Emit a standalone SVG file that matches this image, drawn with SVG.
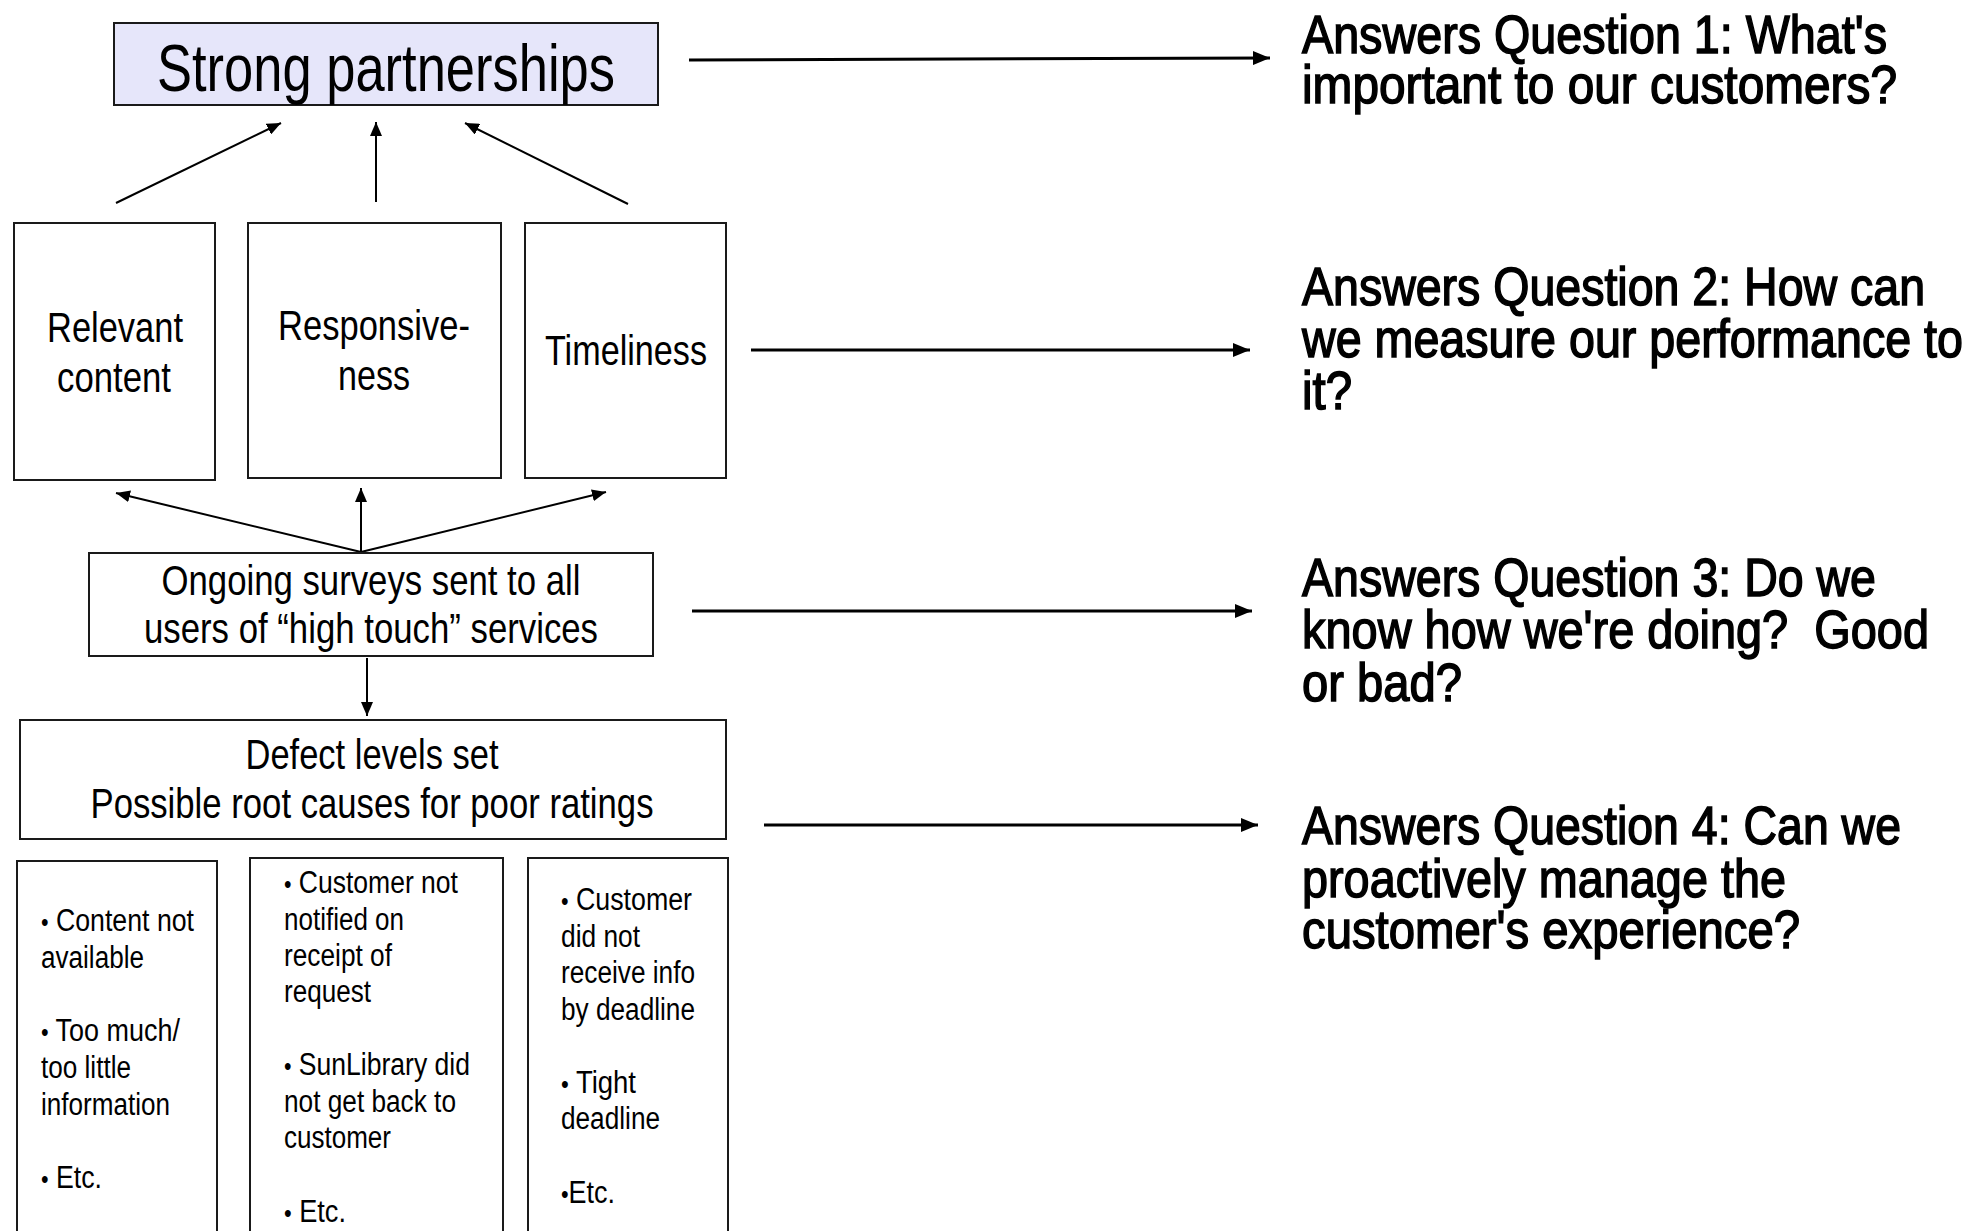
<svg xmlns="http://www.w3.org/2000/svg" width="1969" height="1231" viewBox="0 0 1969 1231">
<defs>
<style>
.box{fill:#fff;stroke:#1a1a1a;stroke-width:2}
.hl{fill:#e6e6fa}
.t{font-family:"Liberation Sans Narrow","Liberation Sans",Arial,sans-serif;fill:#000}
.c{text-anchor:middle}
.q{font-size:53px;stroke:#000;stroke-width:1.5}
.m{font-size:42px}
.s{font-size:31px}
.b{font-size:25px}
.cn{stroke:#000;fill:none}
.thin{stroke-width:2}
.thick{stroke-width:3}
</style>
<marker id="ah" markerUnits="userSpaceOnUse" markerWidth="14" markerHeight="12" refX="14" refY="6" orient="auto">
<path d="M0,0 L14,6 L0,12 z" fill="#000"/>
</marker>
<marker id="ahl" markerUnits="userSpaceOnUse" markerWidth="17" markerHeight="14" refX="17" refY="7" orient="auto">
<path d="M0,0 L17,7 L0,14 z" fill="#000"/>
</marker>
</defs>
<rect width="1969" height="1231" fill="#fff"/>

<g id="connectors">
<line class="cn thin" x1="116" y1="203" x2="281" y2="123" marker-end="url(#ah)"/>
<line class="cn thin" x1="376" y1="202" x2="376" y2="122" marker-end="url(#ah)"/>
<line class="cn thin" x1="628" y1="204" x2="465" y2="123" marker-end="url(#ah)"/>
<line class="cn thin" x1="361" y1="552" x2="116" y2="493" marker-end="url(#ah)"/>
<line class="cn thin" x1="361" y1="552" x2="361" y2="488" marker-end="url(#ah)"/>
<line class="cn thin" x1="361" y1="552" x2="606" y2="492" marker-end="url(#ah)"/>
<line class="cn thin" x1="367" y1="658" x2="367" y2="716" marker-end="url(#ah)"/>
<line class="cn thick" x1="689" y1="60" x2="1270" y2="58" marker-end="url(#ahl)"/>
<line class="cn thick" x1="751" y1="350" x2="1250" y2="350" marker-end="url(#ahl)"/>
<line class="cn thick" x1="692" y1="611" x2="1252" y2="611" marker-end="url(#ahl)"/>
<line class="cn thick" x1="764" y1="825" x2="1258" y2="825" marker-end="url(#ahl)"/>
</g>

<g id="strong-partnerships">
<rect class="box hl" x="114" y="23" width="544" height="82"/>
<text class="t c" x="386" y="91" font-size="66" textLength="458" lengthAdjust="spacingAndGlyphs">Strong partnerships</text>
</g>

<g id="relevant-content">
<rect class="box" x="14" y="223" width="201" height="257"/>
<text class="t c m" x="115" y="342" textLength="136" lengthAdjust="spacingAndGlyphs">Relevant</text>
<text class="t c m" x="114" y="392" textLength="114" lengthAdjust="spacingAndGlyphs">content</text>
</g>

<g id="responsiveness">
<rect class="box" x="248" y="223" width="253" height="255"/>
<text class="t c m" x="374" y="340" textLength="192" lengthAdjust="spacingAndGlyphs">Responsive-</text>
<text class="t c m" x="374" y="390" textLength="72" lengthAdjust="spacingAndGlyphs">ness</text>
</g>

<g id="timeliness">
<rect class="box" x="525" y="223" width="201" height="255"/>
<text class="t c m" x="626" y="365" textLength="162" lengthAdjust="spacingAndGlyphs">Timeliness</text>
</g>

<g id="surveys">
<rect class="box" x="89" y="553" width="564" height="103"/>
<text class="t c m" x="371" y="595" textLength="419" lengthAdjust="spacingAndGlyphs">Ongoing surveys sent to all</text>
<text class="t c m" x="371" y="643" textLength="454" lengthAdjust="spacingAndGlyphs">users of “high touch” services</text>
</g>

<g id="defect-levels">
<rect class="box" x="20" y="720" width="706" height="119"/>
<text class="t c m" x="372" y="769" textLength="253" lengthAdjust="spacingAndGlyphs">Defect levels set</text>
<text class="t c m" x="372" y="818" textLength="563" lengthAdjust="spacingAndGlyphs">Possible root causes for poor ratings</text>
</g>

<g id="causes-relevant">
<rect class="box" x="17" y="861" width="200" height="420"/>
<text class="t s" x="41" y="931" textLength="153" lengthAdjust="spacingAndGlyphs"><tspan class="b">•</tspan> Content not</text>
<text class="t s" x="41" y="968" textLength="103" lengthAdjust="spacingAndGlyphs">available</text>
<text class="t s" x="41" y="1041" textLength="139" lengthAdjust="spacingAndGlyphs"><tspan class="b">•</tspan> Too much/</text>
<text class="t s" x="41" y="1078" textLength="90" lengthAdjust="spacingAndGlyphs">too little</text>
<text class="t s" x="41" y="1115" textLength="129" lengthAdjust="spacingAndGlyphs">information</text>
<text class="t s" x="41" y="1188" textLength="61" lengthAdjust="spacingAndGlyphs"><tspan class="b">•</tspan> Etc.</text>
</g>

<g id="causes-responsiveness">
<rect class="box" x="250" y="858" width="253" height="420"/>
<text class="t s" x="284" y="893" textLength="174" lengthAdjust="spacingAndGlyphs"><tspan class="b">•</tspan> Customer not</text>
<text class="t s" x="284" y="930" textLength="120" lengthAdjust="spacingAndGlyphs">notified on</text>
<text class="t s" x="284" y="966" textLength="108" lengthAdjust="spacingAndGlyphs">receipt of</text>
<text class="t s" x="284" y="1002" textLength="87" lengthAdjust="spacingAndGlyphs">request</text>
<text class="t s" x="284" y="1075" textLength="186" lengthAdjust="spacingAndGlyphs"><tspan class="b">•</tspan> SunLibrary did</text>
<text class="t s" x="284" y="1112" textLength="172" lengthAdjust="spacingAndGlyphs">not get back to</text>
<text class="t s" x="284" y="1148" textLength="107" lengthAdjust="spacingAndGlyphs">customer</text>
<text class="t s" x="284" y="1222" textLength="62" lengthAdjust="spacingAndGlyphs"><tspan class="b">•</tspan> Etc.</text>
</g>

<g id="causes-timeliness">
<rect class="box" x="528" y="858" width="200" height="420"/>
<text class="t s" x="561" y="910" textLength="131" lengthAdjust="spacingAndGlyphs"><tspan class="b">•</tspan> Customer</text>
<text class="t s" x="561" y="947" textLength="79" lengthAdjust="spacingAndGlyphs">did not</text>
<text class="t s" x="561" y="983" textLength="134" lengthAdjust="spacingAndGlyphs">receive info</text>
<text class="t s" x="561" y="1020" textLength="134" lengthAdjust="spacingAndGlyphs">by deadline</text>
<text class="t s" x="561" y="1093" textLength="75" lengthAdjust="spacingAndGlyphs"><tspan class="b">•</tspan> Tight</text>
<text class="t s" x="561" y="1129" textLength="99" lengthAdjust="spacingAndGlyphs">deadline</text>
<text class="t s" x="561" y="1203" textLength="54" lengthAdjust="spacingAndGlyphs"><tspan class="b">•</tspan>Etc.</text>
</g>

<g id="question-1">
<text class="t q" x="1302" y="53" textLength="585" lengthAdjust="spacingAndGlyphs">Answers Question 1: What's</text>
<text class="t q" x="1302" y="103" textLength="595" lengthAdjust="spacingAndGlyphs">important to our customers?</text>
</g>

<g id="question-2">
<text class="t q" x="1302" y="305" textLength="623" lengthAdjust="spacingAndGlyphs">Answers Question 2: How can</text>
<text class="t q" x="1302" y="357" textLength="661" lengthAdjust="spacingAndGlyphs">we measure our performance to</text>
<text class="t q" x="1302" y="409" textLength="50" lengthAdjust="spacingAndGlyphs">it?</text>
</g>

<g id="question-3">
<text class="t q" x="1302" y="596" textLength="574" lengthAdjust="spacingAndGlyphs">Answers Question 3: Do we</text>
<text class="t q" x="1302" y="648" textLength="627" lengthAdjust="spacingAndGlyphs" xml:space="preserve">know how we're doing?  Good</text>
<text class="t q" x="1302" y="701" textLength="160" lengthAdjust="spacingAndGlyphs">or bad?</text>
</g>

<g id="question-4">
<text class="t q" x="1302" y="844" textLength="599" lengthAdjust="spacingAndGlyphs">Answers Question 4: Can we</text>
<text class="t q" x="1302" y="897" textLength="484" lengthAdjust="spacingAndGlyphs">proactively manage the</text>
<text class="t q" x="1302" y="948" textLength="498" lengthAdjust="spacingAndGlyphs">customer's experience?</text>
</g>
</svg>
